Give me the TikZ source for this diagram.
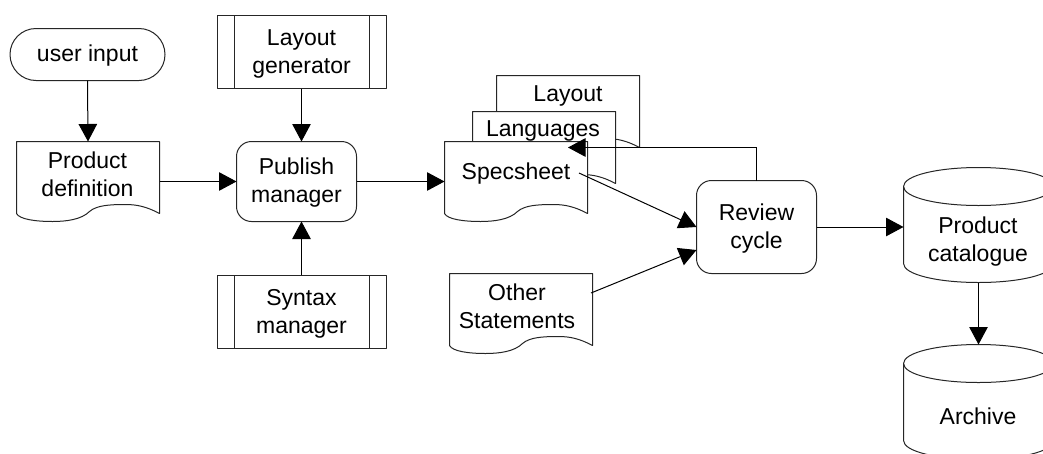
\documentclass[tikz,border=0pt]{standalone}
\usepackage{fontspec}
\setmainfont{Liberation Sans}
\usetikzlibrary{arrows.meta,calc}
\tikzset{
  lbl/.style={align=center,inner sep=0pt,font=\fontsize{23}{28}\selectfont},
  frame/.style={draw=none,inner sep=0pt,minimum width=#1,outer sep=0pt},
  outline/.style={draw=black!85,line width=1pt,fill=white,line join=round},
  boxnode/.style={outline,lbl,outer sep=0pt,rectangle},
  conn/.style={draw=black,line width=1pt,-{Triangle[length=17.5pt,width=18.5pt,fill=black]}},
}
% document shape: #1 name, #2 left x, #3 top y
\newcommand\docshape[3]{%
  \begin{scope}[shift={(#2,#3)}]
    \path[outline] (0,0) -- (143,0) -- (143,72)
      .. controls (130,65) and (120,63) .. (109,63)
      .. controls (92,63) and (80,64) .. (73,70)
      .. controls (65,78) and (50,80) .. (36,80)
      .. controls (20,80) and (3,78) .. (0,72) -- cycle;
    \node[frame=143pt,minimum height=80pt] (#1) at (71.5,40) {};
  \end{scope}}
% cylinder: #1 name, #2 left x, #3 top y
\newcommand\cylshape[3]{%
  \begin{scope}[shift={(#2,#3)}]
    \path[outline] (0,19)
      .. controls (0,8) and (34,0) .. (75,0)
      .. controls (116,0) and (150,8) .. (150,19)
      -- (150,96)
      .. controls (150,107) and (116,115) .. (75,115)
      .. controls (34,115) and (0,107) .. (0,96) -- cycle;
    \path[outline,fill=none] (0,19)
      .. controls (0,30) and (34,38) .. (75,38)
      .. controls (116,38) and (150,30) .. (150,19);
    \node[frame=150pt,minimum height=115pt] (#1) at (75,57.5) {};
  \end{scope}}
% predefined process: #1 name, #2 centre x, #3 centre y, #4 text
\newcommand\procshape[4]{%
  \node[boxnode,minimum width=169pt,minimum height=73pt,yshift=0pt] (#1) at (#2,#3) {#4};
  \draw[outline,fill=none] ($(#1.north west)+(17,0)$) -- ($(#1.south west)+(17,0)$);
  \draw[outline,fill=none] ($(#1.north east)+(-17,0)$) -- ($(#1.south east)+(-17,0)$);}
\begin{document}
\begin{tikzpicture}[x=1pt,y=-1pt]
\clip (0,0) rectangle (1043,453);
\fill[white] (0,0) rectangle (1043,453);

\node[boxnode,rounded corners=26pt,minimum width=155pt,minimum height=52pt] (ui) at (87.5,54.5) {};
\node[lbl] (uit) at (87.5,56) {user input};
\procshape{lg}{301.5}{52}{}
\node[lbl] (lgt) at (301.5,53.5) {Layout\\generator};
\procshape{sm}{301.5}{311.5}{}
\node[lbl] (smt) at (301.5,313.5) {Syntax\\manager};
\node[boxnode,rounded corners=15pt,minimum width=120pt,minimum height=80pt] (pm) at (296.5,181.5) {};
\node[lbl] (pmt) at (296.5,183) {Publish\\manager};
\node[boxnode,rounded corners=15pt,minimum width=120pt,minimum height=93pt] (rv) at (756.5,227) {};
\node[lbl] (rvt) at (756.5,228.5) {Review\\cycle};

\docshape{pd}{16.5}{141.5}
\node[lbl] (pdt) at (87.5,174.5) {Product\\definition};
\docshape{ly}{496.5}{75.5}
\node[lbl] (lyt) at (568,96) {Layout};
\docshape{la}{472.5}{111.5}
\node[lbl] (lat) at (543,131) {Languages};
\docshape{ss}{444.5}{141.5}
\node[lbl] (sst) at (516,173.5) {Specsheet};
\docshape{os}{449.5}{273.5}
\node[lbl] (ost) at (517,306) {Other\\Statements};

\cylshape{pc}{903.5}{167.5}
\node[lbl] (pct) at (978,241.5) {Product\\catalogue};
\cylshape{ar}{903.5}{344.5}
\node[lbl] (art) at (978,416) {Archive};

\coordinate (ssout) at (579,173);
\coordinate (osout) at (591,293);
\coordinate (rvinA) at (rv.west |- 0,227);
\coordinate (rvinB) at (rv.west |- 0,250);
\coordinate (rvtop) at (rv.north);
\coordinate (ssback) at (568,147.5);

\draw[conn] (ui.south) -- (pd.north);
\draw[conn] (pd.east) -- (pm.west);
\draw[conn] (lg.south) -- (lg.south |- pm.north);
\draw[conn] (sm.north) -- (sm.north |- pm.south);
\draw[conn] (pm.east) -- (ss.west);
\draw[conn] (rvtop) |- (ssback);
\draw[conn] (ssout) -- (rvinA);
\draw[conn] (osout) -- (rvinB);
\draw[conn] (rv.east) -- (rv.east -| pc.west);
\draw[conn] (pc.south) -- (ar.north);
\end{tikzpicture}
\end{document}
